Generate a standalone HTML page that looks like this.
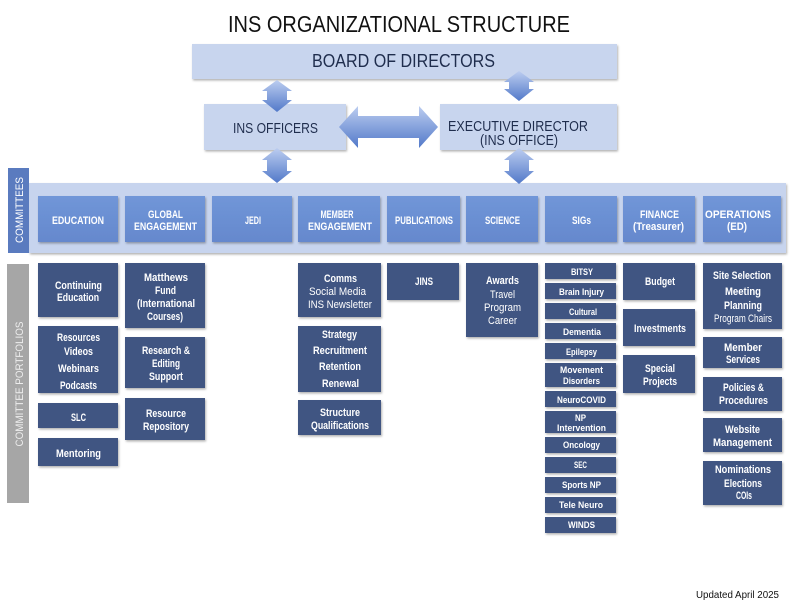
<!DOCTYPE html>
<html><head><meta charset="utf-8"><style>
html,body{margin:0;padding:0;background:#fff;}
svg{display:block;}
text{font-family:"Liberation Sans",sans-serif;}
.w{fill:#fff;font-weight:bold;font-size:11px;}
.wr{fill:#fff;font-weight:normal;font-size:11px;}
.s{fill:#fff;font-weight:bold;font-size:9.5px;}
.d{fill:#1f2d4d;}
</style></head><body>
<svg width="792" height="612" viewBox="0 0 792 612" xmlns="http://www.w3.org/2000/svg">
<defs>
<filter id="sh" x="-10%" y="-10%" width="130%" height="140%"><feDropShadow dx="1" dy="1.5" stdDeviation="1" flood-color="#000" flood-opacity="0.3"/></filter>
<linearGradient id="ag" x1="0" y1="0" x2="0" y2="1"><stop offset="0" stop-color="#bccdf0"/><stop offset="1" stop-color="#5279c9"/></linearGradient>
<linearGradient id="cg" x1="0" y1="0" x2="0" y2="1"><stop offset="0" stop-color="#7096d8"/><stop offset="1" stop-color="#6588cd"/></linearGradient>
</defs>
<rect width="792" height="612" fill="#fff"/>
<text x="399" y="32" font-size="23" fill="#111" text-anchor="middle" textLength="342" lengthAdjust="spacingAndGlyphs">INS ORGANIZATIONAL STRUCTURE</text>

<g filter="url(#sh)" fill="#c8d5ee">
<rect x="192" y="44" width="425" height="35"/>
<rect x="204" y="104" width="142" height="46"/>
<rect x="440" y="104" width="177" height="46"/>
</g>
<text class="d" x="403.5" y="67" font-size="18" text-anchor="middle" textLength="183" lengthAdjust="spacingAndGlyphs">BOARD OF DIRECTORS</text>
<text class="d" x="275.5" y="133" font-size="15" text-anchor="middle" textLength="85" lengthAdjust="spacingAndGlyphs">INS OFFICERS</text>
<text class="d" x="518" y="131" font-size="15" text-anchor="middle" textLength="140" lengthAdjust="spacingAndGlyphs">EXECUTIVE DIRECTOR</text>
<text class="d" x="519" y="145" font-size="15" text-anchor="middle" textLength="78" lengthAdjust="spacingAndGlyphs">(INS OFFICE)</text>

<!-- Committees panel -->
<rect x="29" y="183" width="757" height="70" fill="#c7d4ee" filter="url(#sh)"/>
<rect x="8" y="168" width="21" height="85" fill="#5a7bbf"/>
<text transform="translate(23,210) rotate(-90)" font-size="11" fill="#fff" text-anchor="middle" textLength="66" lengthAdjust="spacingAndGlyphs">COMMITTEES</text>

<g filter="url(#sh)" fill="url(#cg)">
<rect x="38" y="196" width="80" height="46"/>
<rect x="125" y="196" width="80" height="46"/>
<rect x="212" y="196" width="80" height="46"/>
<rect x="298" y="196" width="82" height="46"/>
<rect x="387" y="196" width="73" height="46"/>
<rect x="466" y="196" width="72" height="46"/>
<rect x="545" y="196" width="72" height="46"/>
<rect x="623" y="196" width="72" height="46"/>
<rect x="703" y="196" width="78" height="46"/>
</g>
<g text-anchor="middle">
<text class="w" x="78" y="224" textLength="52" lengthAdjust="spacingAndGlyphs">EDUCATION</text>
<text class="w" x="165.5" y="218" textLength="35" lengthAdjust="spacingAndGlyphs">GLOBAL</text>
<text class="w" x="165.5" y="230" textLength="63" lengthAdjust="spacingAndGlyphs">ENGAGEMENT</text>
<text class="w" x="253" y="224" textLength="16" lengthAdjust="spacingAndGlyphs">JEDI</text>
<text class="w" x="337" y="218" textLength="33" lengthAdjust="spacingAndGlyphs">MEMBER</text>
<text class="w" x="340" y="230" textLength="64" lengthAdjust="spacingAndGlyphs">ENGAGEMENT</text>
<text class="w" x="424" y="224" font-size="10" textLength="58" lengthAdjust="spacingAndGlyphs">PUBLICATIONS</text>
<text class="w" x="502.5" y="224" textLength="35" lengthAdjust="spacingAndGlyphs">SCIENCE</text>
<text class="w" x="581.5" y="224" textLength="19" lengthAdjust="spacingAndGlyphs">SIGs</text>
<text class="w" x="659.5" y="218" textLength="39" lengthAdjust="spacingAndGlyphs">FINANCE</text>
<text class="w" x="658.5" y="230" textLength="51" lengthAdjust="spacingAndGlyphs">(Treasurer)</text>
<text class="w" x="738" y="218" textLength="66" lengthAdjust="spacingAndGlyphs">OPERATIONS</text>
<text class="w" x="737" y="230" textLength="20" lengthAdjust="spacingAndGlyphs">(ED)</text>
</g>

<!-- Portfolios -->
<rect x="7" y="264" width="22" height="239" fill="#a6a6a6"/>
<text transform="translate(23,384) rotate(-90)" font-size="11" fill="#ededed" text-anchor="middle" textLength="125" lengthAdjust="spacingAndGlyphs">COMMITTEE PORTFOLIOS</text>

<g filter="url(#sh)" fill="#3f5482">
<rect x="38" y="263" width="80" height="54"/>
<rect x="38" y="326" width="80" height="67"/>
<rect x="38" y="403" width="80" height="25"/>
<rect x="38" y="438" width="80" height="28"/>
<rect x="125" y="263" width="80" height="65"/>
<rect x="125" y="337" width="80" height="51"/>
<rect x="125" y="398" width="80" height="42"/>
<rect x="298" y="263" width="83" height="54"/>
<rect x="298" y="326" width="83" height="66"/>
<rect x="298" y="400" width="83" height="35"/>
<rect x="387" y="263" width="72" height="37"/>
<rect x="466" y="263" width="72" height="74"/>
<rect x="545" y="263" width="71" height="16"/>
<rect x="545" y="283" width="71" height="16"/>
<rect x="545" y="303" width="71" height="16"/>
<rect x="545" y="323" width="71" height="16"/>
<rect x="545" y="343" width="71" height="16"/>
<rect x="545" y="363" width="71" height="24"/>
<rect x="545" y="391" width="71" height="16"/>
<rect x="545" y="411" width="71" height="22"/>
<rect x="545" y="437" width="71" height="16"/>
<rect x="545" y="457" width="71" height="16"/>
<rect x="545" y="477" width="71" height="16"/>
<rect x="545" y="497" width="71" height="16"/>
<rect x="545" y="517" width="71" height="16"/>
<rect x="623" y="263" width="72" height="37"/>
<rect x="623" y="309" width="72" height="37"/>
<rect x="623" y="355" width="72" height="38"/>
<rect x="703" y="263" width="79" height="66"/>
<rect x="703" y="337" width="79" height="31"/>
<rect x="703" y="377" width="79" height="34"/>
<rect x="703" y="418" width="79" height="34"/>
<rect x="703" y="461" width="79" height="44"/>
</g>

<g text-anchor="middle">
<text class="w" x="78.5" y="289" textLength="47" lengthAdjust="spacingAndGlyphs">Continuing</text>
<text class="w" x="78" y="301" textLength="42" lengthAdjust="spacingAndGlyphs">Education</text>
<text class="w" x="78.5" y="341" textLength="43" lengthAdjust="spacingAndGlyphs">Resources</text>
<text class="w" x="78.5" y="355" textLength="29" lengthAdjust="spacingAndGlyphs">Videos</text>
<text class="w" x="78.5" y="372" textLength="41" lengthAdjust="spacingAndGlyphs">Webinars</text>
<text class="w" x="78.5" y="389" textLength="37" lengthAdjust="spacingAndGlyphs">Podcasts</text>
<text class="w" x="78.5" y="421" textLength="15" lengthAdjust="spacingAndGlyphs">SLC</text>
<text class="w" x="78.5" y="457" textLength="45" lengthAdjust="spacingAndGlyphs">Mentoring</text>

<text class="w" x="166" y="281" textLength="44" lengthAdjust="spacingAndGlyphs">Matthews</text>
<text class="w" x="165.5" y="294" textLength="21" lengthAdjust="spacingAndGlyphs">Fund</text>
<text class="w" x="166" y="307" textLength="58" lengthAdjust="spacingAndGlyphs">(International</text>
<text class="w" x="165" y="320" textLength="36" lengthAdjust="spacingAndGlyphs">Courses)</text>
<text class="w" x="166" y="354" textLength="48" lengthAdjust="spacingAndGlyphs">Research &amp;</text>
<text class="w" x="166" y="367" textLength="28" lengthAdjust="spacingAndGlyphs">Editing</text>
<text class="w" x="166" y="380" textLength="34" lengthAdjust="spacingAndGlyphs">Support</text>
<text class="w" x="166" y="417" textLength="40" lengthAdjust="spacingAndGlyphs">Resource</text>
<text class="w" x="166" y="430" textLength="46" lengthAdjust="spacingAndGlyphs">Repository</text>

<text class="w" x="340.5" y="282" textLength="33" lengthAdjust="spacingAndGlyphs">Comms</text>
<text class="wr" x="337.5" y="295" textLength="57" lengthAdjust="spacingAndGlyphs">Social Media</text>
<text class="wr" x="340" y="308" textLength="64" lengthAdjust="spacingAndGlyphs">INS Newsletter</text>
<text class="w" x="339.5" y="338" textLength="35" lengthAdjust="spacingAndGlyphs">Strategy</text>
<text class="w" x="340" y="354" textLength="54" lengthAdjust="spacingAndGlyphs">Recruitment</text>
<text class="w" x="340" y="370" textLength="42" lengthAdjust="spacingAndGlyphs">Retention</text>
<text class="w" x="340.5" y="387" textLength="37" lengthAdjust="spacingAndGlyphs">Renewal</text>
<text class="w" x="340" y="416" textLength="40" lengthAdjust="spacingAndGlyphs">Structure</text>
<text class="w" x="340" y="429" textLength="58" lengthAdjust="spacingAndGlyphs">Qualifications</text>

<text class="w" x="424" y="285" textLength="18" lengthAdjust="spacingAndGlyphs">JINS</text>

<text class="w" x="502.5" y="284" textLength="33" lengthAdjust="spacingAndGlyphs">Awards</text>
<text class="wr" x="502.5" y="298" textLength="25" lengthAdjust="spacingAndGlyphs">Travel</text>
<text class="wr" x="502.5" y="311" textLength="37" lengthAdjust="spacingAndGlyphs">Program</text>
<text class="wr" x="502.5" y="324" textLength="29" lengthAdjust="spacingAndGlyphs">Career</text>

<text class="s" x="582" y="275" textLength="22" lengthAdjust="spacingAndGlyphs">BITSY</text>
<text class="s" x="581.5" y="295" textLength="45" lengthAdjust="spacingAndGlyphs">Brain Injury</text>
<text class="s" x="583" y="315" textLength="28" lengthAdjust="spacingAndGlyphs">Cultural</text>
<text class="s" x="582" y="335" textLength="38" lengthAdjust="spacingAndGlyphs">Dementia</text>
<text class="s" x="581.5" y="355" textLength="31" lengthAdjust="spacingAndGlyphs">Epilepsy</text>
<text class="s" x="581.5" y="373" textLength="43" lengthAdjust="spacingAndGlyphs">Movement</text>
<text class="s" x="581.5" y="384" textLength="37" lengthAdjust="spacingAndGlyphs">Disorders</text>
<text class="s" x="581.5" y="403" textLength="49" lengthAdjust="spacingAndGlyphs">NeuroCOVID</text>
<text class="s" x="580.5" y="421" textLength="11" lengthAdjust="spacingAndGlyphs">NP</text>
<text class="s" x="581.5" y="431" textLength="49" lengthAdjust="spacingAndGlyphs">Intervention</text>
<text class="s" x="581.5" y="448" textLength="37" lengthAdjust="spacingAndGlyphs">Oncology</text>
<text class="s" x="580.5" y="468" textLength="13" lengthAdjust="spacingAndGlyphs">SEC</text>
<text class="s" x="581.5" y="488" textLength="39" lengthAdjust="spacingAndGlyphs">Sports NP</text>
<text class="s" x="581" y="508" textLength="44" lengthAdjust="spacingAndGlyphs">Tele Neuro</text>
<text class="s" x="581.5" y="528" textLength="27" lengthAdjust="spacingAndGlyphs">WINDS</text>

<text class="w" x="660" y="285" textLength="30" lengthAdjust="spacingAndGlyphs">Budget</text>
<text class="w" x="660" y="332" textLength="52" lengthAdjust="spacingAndGlyphs">Investments</text>
<text class="w" x="660" y="372" textLength="30" lengthAdjust="spacingAndGlyphs">Special</text>
<text class="w" x="660" y="385" textLength="34" lengthAdjust="spacingAndGlyphs">Projects</text>

<text class="w" x="742" y="279" textLength="58" lengthAdjust="spacingAndGlyphs">Site Selection</text>
<text class="w" x="743" y="295" textLength="36" lengthAdjust="spacingAndGlyphs">Meeting</text>
<text class="w" x="743" y="309" textLength="38" lengthAdjust="spacingAndGlyphs">Planning</text>
<text class="wr" x="743" y="322" font-size="9.5" textLength="58" lengthAdjust="spacingAndGlyphs">Program Chairs</text>
<text class="w" x="743" y="351" textLength="38" lengthAdjust="spacingAndGlyphs">Member</text>
<text class="w" x="743" y="363" textLength="34" lengthAdjust="spacingAndGlyphs">Services</text>
<text class="w" x="743.5" y="391" textLength="41" lengthAdjust="spacingAndGlyphs">Policies &amp;</text>
<text class="w" x="743.5" y="404" textLength="49" lengthAdjust="spacingAndGlyphs">Procedures</text>
<text class="w" x="742.5" y="433" textLength="35" lengthAdjust="spacingAndGlyphs">Website</text>
<text class="w" x="742.5" y="446" textLength="59" lengthAdjust="spacingAndGlyphs">Management</text>
<text class="w" x="743" y="473" textLength="56" lengthAdjust="spacingAndGlyphs">Nominations</text>
<text class="w" x="743" y="487" textLength="38" lengthAdjust="spacingAndGlyphs">Elections</text>
<text class="w" x="744" y="499" textLength="16" lengthAdjust="spacingAndGlyphs">COIs</text>
</g>

<!-- Arrows -->
<g fill="url(#ag)">
<polygon points="277,80 292,91 287,91 287,100 292,100 277,112 262,100 267,100 267,91 262,91"/>
<polygon points="277,148 292,160 287,160 287,171 292,171 277,183 262,171 267,171 267,160 262,160"/>
<polygon points="519,71 534,82 529,82 529,89 534,89 519,101 504,89 509,89 509,82 504,82"/>
<polygon points="519,148 534,160 529,160 529,171 534,171 519,184 504,171 509,171 509,160 504,160"/>
<polygon points="339,127 358,106 358,116 419,116 419,106 438,127 419,148 419,138 358,138 358,148"/>
</g>

<text x="696" y="598" font-size="10" fill="#111" textLength="83" lengthAdjust="spacingAndGlyphs">Updated April 2025</text>
</svg>
</body></html>
